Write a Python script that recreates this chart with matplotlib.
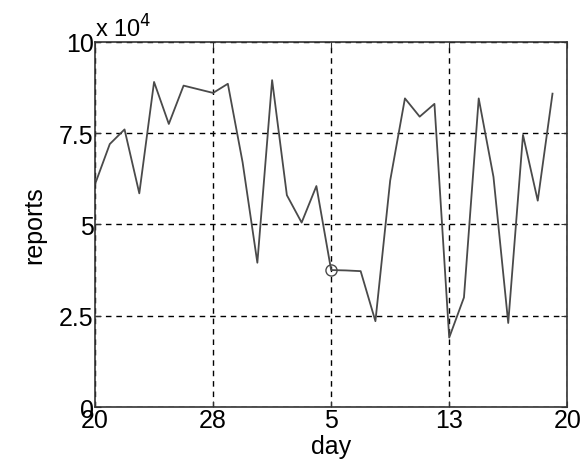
import numpy as np
import matplotlib
matplotlib.use('Agg')
import matplotlib.pyplot as plt

plt.rcParams['font.family'] = ['Liberation Sans', 'DejaVu Sans']

# reports per day, in units of 1e4 (day index 0 = the 20th)
days = np.arange(32)
reports = [6.1, 7.2, 7.6, 5.85, 8.9, 7.75, 8.8, 8.7, 8.6, 8.85,
           6.7, 3.95, 8.95, 5.8, 5.05, 6.05, 3.75, 3.74, 3.72, 2.35,
           6.2, 8.45, 7.95, 8.3, 1.9, 3.0, 8.45, 6.3, 2.3, 7.45,
           5.65, 8.58]
marked_day = 16
xtick_pos = [0, 8, 16, 24, 32]
xtick_labels = ['20', '28', '5', '13', '20']
ytick_pos = [0, 2.5, 5, 7.5, 10]
ytick_labels = ['0', '2.5', '5', '7.5', '10']

fig = plt.figure(figsize=(5.83, 4.6), dpi=100)
ax = fig.add_axes([0.163, 0.113, 0.81, 0.794])
ax.plot(days, reports, '-', color='#4a4a4a', lw=1.3)
ax.plot(days[marked_day], reports[marked_day], 'o', mfc='none', mec='#4a4a4a',
        ms=8, mew=1.0)

ax.set_xlim(0, 32)
ax.set_ylim(0, 10)
ax.set_xticks(xtick_pos)
ax.set_xticklabels(xtick_labels)
ax.set_yticks(ytick_pos)
ax.set_yticklabels(ytick_labels)
ax.tick_params(direction='in', length=4, top=True, right=True, labelsize=18,
               pad=1, color='#333333')
ax.grid(True, ls=(0, (4, 3.5)), color='black', lw=1.0)
for s in ax.spines.values():
    s.set_linewidth(1.2)
    s.set_color('#333333')

ax.set_xlabel('day', fontsize=18, labelpad=1)
ax.set_ylabel('reports', fontsize=18, labelpad=9)
ax.text(0.0, 1.0, 'x 10$^4$', transform=ax.transAxes, fontsize=17,
        ha='left', va='bottom')

fig.savefig('out.png', dpi=100)
